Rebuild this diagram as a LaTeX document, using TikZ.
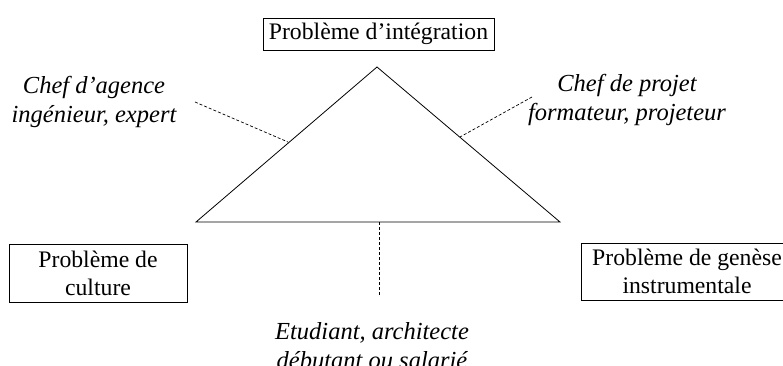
\documentclass[tikz,border=0pt]{standalone}
\usepackage{fontspec}
\setmainfont{Liberation Serif}
\begin{document}
\begin{tikzpicture}[x=1pt,y=-1pt,
  line width=0.8pt,
  probbox/.style={draw, align=center, inner sep=0pt, font=\fontsize{23.7}{28}\selectfont},
  actor/.style={align=center, inner sep=0pt, font=\fontsize{24.5}{29}\selectfont\itshape},
  dashlink/.style={dash pattern=on 3pt off 2pt, line width=0.7pt}]
\useasboundingbox (0,0) rectangle (783,365);
\clip (0,0) rectangle (783,365);
% problem boxes
\node[probbox, minimum width=231, minimum height=32] (integ) at (378.5,34) {Problème d’intégration};
\node[probbox, minimum width=178, minimum height=58] (cult) at (98,273) {Problème de\\culture};
\node[probbox, minimum width=212, minimum height=57] (genese) at (687,271.5) {Problème de genèse\\instrumentale};
% triangle
\coordinate (A) at (377,67);
\coordinate (L) at (196,222);
\coordinate (R) at (560,222);
\draw (L) -- (A) -- (R) -- cycle;
% actors
\node[actor] (chefag) at (94,102) {Chef d’agence\\ingénieur, expert};
\node[actor] (chefpr) at (627,100) {Chef de projet\\formateur, projeteur};
\node[actor] (etud) at (372,346) {Etudiant, architecte\\débutant ou salarié};
% dashed links
\coordinate (dl1) at (195,102);
\coordinate (dl2) at (288,142);
\coordinate (dr1) at (532,97);
\coordinate (dr2) at (460,137);
\coordinate (db1) at (379,222);
\coordinate (db2) at (379,295);
\draw[dashlink] (dl1) -- (dl2);
\draw[dashlink] (dr1) -- (dr2);
\draw[dashlink] (db1) -- (db2);
\end{tikzpicture}
\end{document}
